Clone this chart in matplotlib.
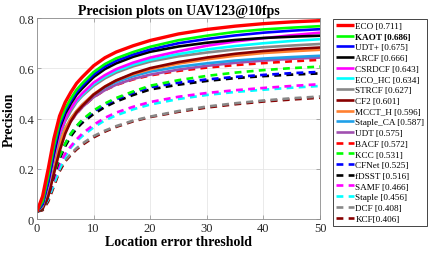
import numpy as np
import matplotlib
matplotlib.use('Agg')
import matplotlib.pyplot as plt

plt.rcParams['font.family'] = ['Liberation Serif', 'DejaVu Serif']

thresholds = [0, 1, 2, 3, 4, 5, 6, 7, 8, 10, 12, 14, 17, 20, 25, 30, 35, 40, 45, 50]

trackers = ['ECO', 'KAOT', 'UDT+', 'ARCF', 'CSRDCF', 'ECO_HC', 'STRCF', 'CF2',
            'MCCT_H', 'Staple_CA', 'UDT', 'BACF', 'KCC', 'CFNet', 'fDSST',
            'SAMF', 'Staple', 'DCF', 'KCF']
scores = [0.711, 0.686, 0.675, 0.666, 0.643, 0.634, 0.627, 0.601, 0.596,
          0.587, 0.575, 0.572, 0.531, 0.525, 0.516, 0.466, 0.456, 0.408, 0.406]

eco = [0.03, 0.09, 0.20, 0.32, 0.41, 0.465, 0.505, 0.54, 0.565, 0.61, 0.642, 0.665, 0.69, 0.711, 0.737, 0.755, 0.768, 0.778, 0.785, 0.79]
kaot = [0.03, 0.07, 0.17, 0.29, 0.385, 0.44, 0.48, 0.515, 0.54, 0.585, 0.617, 0.64, 0.665, 0.686, 0.712, 0.73, 0.745, 0.755, 0.762, 0.768]
udt_plus = [0.03, 0.06, 0.15, 0.27, 0.37, 0.43, 0.47, 0.505, 0.53, 0.575, 0.607, 0.63, 0.655, 0.675, 0.70, 0.717, 0.731, 0.742, 0.75, 0.756]
arcf = [0.03, 0.06, 0.15, 0.26, 0.36, 0.42, 0.46, 0.495, 0.52, 0.565, 0.597, 0.62, 0.646, 0.666, 0.687, 0.702, 0.713, 0.721, 0.726, 0.73]
csrdcf = [0.03, 0.06, 0.14, 0.25, 0.34, 0.40, 0.44, 0.475, 0.50, 0.543, 0.573, 0.597, 0.623, 0.643, 0.668, 0.69, 0.707, 0.72, 0.732, 0.742]
eco_hc = [0.03, 0.06, 0.14, 0.25, 0.34, 0.40, 0.44, 0.47, 0.495, 0.537, 0.567, 0.59, 0.615, 0.634, 0.657, 0.675, 0.689, 0.70, 0.709, 0.716]
strcf = [0.03, 0.05, 0.13, 0.24, 0.33, 0.39, 0.43, 0.465, 0.49, 0.53, 0.56, 0.583, 0.608, 0.627, 0.648, 0.663, 0.675, 0.684, 0.691, 0.697]
cf2 = [0.03, 0.04, 0.09, 0.18, 0.27, 0.34, 0.39, 0.425, 0.45, 0.495, 0.527, 0.552, 0.58, 0.601, 0.625, 0.643, 0.658, 0.669, 0.677, 0.683]
mcct_h = [0.03, 0.05, 0.12, 0.22, 0.30, 0.36, 0.40, 0.43, 0.455, 0.497, 0.528, 0.552, 0.577, 0.596, 0.619, 0.636, 0.65, 0.661, 0.668, 0.674]
staple_ca = [0.03, 0.05, 0.12, 0.22, 0.30, 0.36, 0.40, 0.43, 0.455, 0.495, 0.524, 0.546, 0.569, 0.587, 0.606, 0.62, 0.631, 0.639, 0.645, 0.65]
udt = [0.03, 0.05, 0.12, 0.21, 0.29, 0.35, 0.39, 0.42, 0.445, 0.485, 0.513, 0.535, 0.558, 0.575, 0.595, 0.61, 0.622, 0.631, 0.638, 0.643]
bacf = [0.03, 0.05, 0.12, 0.21, 0.29, 0.35, 0.39, 0.42, 0.445, 0.485, 0.513, 0.534, 0.556, 0.572, 0.59, 0.603, 0.613, 0.621, 0.628, 0.634]
kcc = [0.03, 0.04, 0.10, 0.18, 0.25, 0.30, 0.34, 0.37, 0.395, 0.432, 0.46, 0.482, 0.508, 0.531, 0.553, 0.57, 0.583, 0.593, 0.601, 0.607]
cfnet = [0.03, 0.04, 0.10, 0.18, 0.25, 0.30, 0.34, 0.37, 0.392, 0.428, 0.455, 0.477, 0.503, 0.525, 0.543, 0.556, 0.566, 0.574, 0.581, 0.586]
fdsst = [0.03, 0.04, 0.09, 0.17, 0.24, 0.29, 0.33, 0.36, 0.383, 0.418, 0.446, 0.468, 0.494, 0.516, 0.535, 0.55, 0.561, 0.569, 0.575, 0.58]
samf = [0.03, 0.04, 0.09, 0.16, 0.22, 0.26, 0.29, 0.317, 0.34, 0.375, 0.403, 0.424, 0.447, 0.466, 0.487, 0.502, 0.513, 0.522, 0.53, 0.537]
staple = [0.03, 0.04, 0.08, 0.14, 0.20, 0.25, 0.285, 0.31, 0.33, 0.365, 0.393, 0.413, 0.437, 0.456, 0.478, 0.494, 0.506, 0.515, 0.523, 0.53]
dcf = [0.03, 0.04, 0.08, 0.14, 0.20, 0.235, 0.26, 0.282, 0.30, 0.33, 0.352, 0.37, 0.392, 0.408, 0.43, 0.448, 0.461, 0.472, 0.481, 0.488]
kcf = [0.03, 0.035, 0.07, 0.13, 0.19, 0.23, 0.255, 0.277, 0.295, 0.325, 0.348, 0.367, 0.389, 0.406, 0.427, 0.444, 0.457, 0.468, 0.476, 0.483]

curves = [eco, kaot, udt_plus, arcf, csrdcf, eco_hc, strcf, cf2, mcct_h,
          staple_ca, udt, bacf, kcc, cfnet, fdsst, samf, staple, dcf, kcf]
for c in curves:
    assert len(c) == len(thresholds)

colors = ['#ff0000', '#00ff00', '#0000ff', '#000000', '#ff00ff', '#00ffff',
          '#888888', '#880000', '#ff8030', '#20a0e8', '#a050b0',
          '#ff0000', '#00ff00', '#0000ff', '#000000', '#ff00ff', '#00ffff',
          '#888888', '#880000']
n_solid = 11

fig = plt.figure(figsize=(4.29, 2.55), dpi=100)
ax = fig.add_axes([0.086, 0.137, 0.66, 0.788])

handles = []
# draw the worst first so the best ends on top
for i in range(len(trackers) - 1, -1, -1):
    name = trackers[i]
    if name == 'KCF':
        label = 'KCF[%.3f]' % scores[i]
    else:
        label = '%s [%.3f]' % (name, scores[i])
    if i < n_solid:
        line, = ax.plot(thresholds, curves[i], color=colors[i],
                        lw=2.4 if i == 0 else 1.9, label=label,
                        solid_capstyle='butt', solid_joinstyle='round')
    else:
        line, = ax.plot(thresholds, curves[i], color=colors[i], lw=1.9,
                        dashes=(2.6, 2.0), label=label)
    handles.append(line)
handles = handles[::-1]

ax.set_xlim(0, 50)
ax.set_ylim(0, 0.8)
ax.set_xticks([0, 10, 20, 30, 40, 50])
ax.set_yticks([0, 0.2, 0.4, 0.6, 0.8])
ax.set_yticklabels(['0', '0.2', '0.4', '0.6', '0.8'])
ax.grid(True, color='#e6e6e6', lw=0.6)
ax.set_axisbelow(True)
ax.tick_params(direction='in', labelsize=9, length=3, width=0.5,
               colors='#8c8c8c', labelcolor='#262626', top=True, right=True,
               pad=2)
for sp in ax.spines.values():
    sp.set_color('#8c8c8c')
    sp.set_linewidth(0.6)

ax.set_title('Precision plots on UAV123@10fps', fontsize=10,
             fontweight='bold', pad=3)
ax.set_xlabel('Location error threshold', fontsize=10, fontweight='bold',
              labelpad=1)
ax.set_ylabel('Precision', fontsize=10, fontweight='bold', labelpad=2)

leg = fig.legend(handles=handles, loc='upper left',
                 bbox_to_anchor=(0.776, 0.922), bbox_transform=fig.transFigure,
                 fontsize=6.6, labelspacing=0.25, handlelength=2.05,
                 handletextpad=0.1, borderpad=0.3, borderaxespad=0,
                 fancybox=False, framealpha=1, edgecolor='#262626')
leg.get_frame().set_linewidth(0.6)
leg.get_texts()[1].set_fontweight('bold')

fig.savefig('out.png', dpi=100)
